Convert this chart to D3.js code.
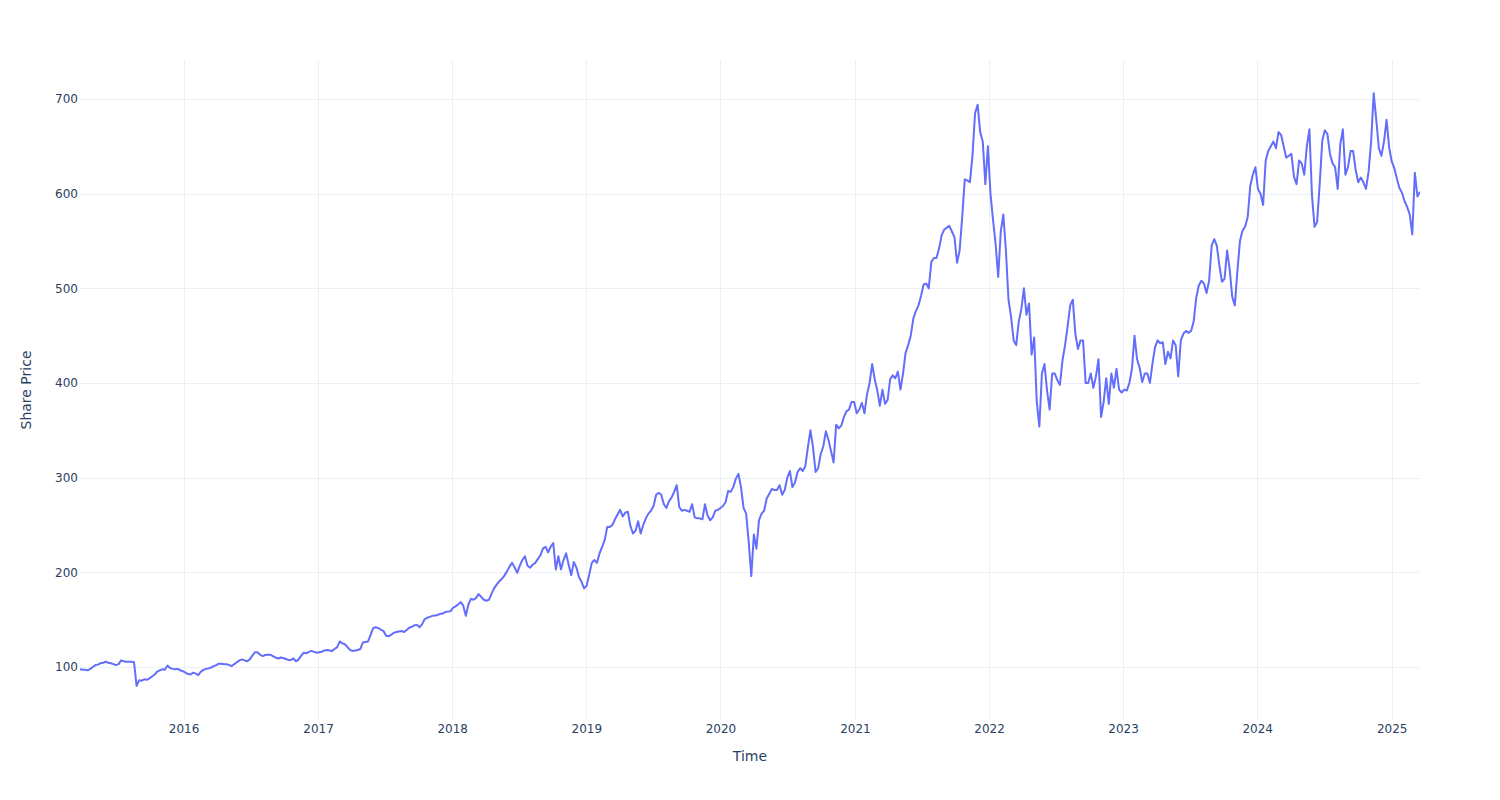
<!DOCTYPE html>
<html><head><meta charset="utf-8">
<script src="https://cdn.jsdelivr.net/npm/d3@7"></script>
<style>
body{margin:0;background:#fff}
text{font-family:"DejaVu Sans",Verdana,sans-serif}
</style>
</head><body>
<svg id="chart" width="1500" height="800"></svg>
<script>
// ---- data (weekly closes) ----
const startDate = "2015-03-25";
const stepDays = 7;
const prices = [
97.5,97,97,96.5,98,100,102,102.5,104,104.5,105.5,104.5,104,103,102,103,107,106,105.5,105.5,
105.5,105,80,86,85.5,87,86.5,88,90,92,95,96.5,97.5,97,101.5,99,98,97.5,98,96.5,
95.5,94,92.5,92,94,93,91.5,95,97,98,98.5,99.5,101,102,103.5,103.5,103,103,102,101,
103,105,107,108,107,106,108,112,115.5,115.5,113,111.5,112.7,113,113,111.5,110,109,110,109.5,
108.5,107.5,107.5,109,106,108,112,115,114.5,116,117,116,115,115.5,116,117.5,118,117.5,117,119,
121,127,125,124,121,118,117,117.5,118,119,126,126.5,127,134,141,142,141,139.5,138,133,
132.5,134,136,137,137.5,138,137,139,141.5,142.5,144,144.5,142,145,150.5,152,153,154,154.5,155,
156,156.5,158,158.5,158.8,162.5,164,166,168.5,165,154,166,172,171,173,177,174,171,170,171,
177.5,183,187,190.5,193,196.5,201,206,210,205,199.5,207,213,217,207,205,208,210,214,218,
225,227,221,227,231,203,217,203,213,220,208,197,211,205,195,190,183,186,198,210,
213,210,220,227,234,248,248,250,256,261,266,259,263,264,249,241,244,254,241,250,
257,262,265,270,282,284,282,272,268,275,279,285,292,269,265,266,265,264,272,258,
257,257,256,272,260,255,258,265,266,268,270,274,286,285,290,299,304,290,268,262,
232,196,240,225,255,262,265,278,283,288,287,287,292,282,287,300,307,290,295,306,
310,307,312,332,350,332,306,310,325,333,349,340,328,316,356,352,355,364,370,372,
380,380,368,372,379,368,388,400,420,404,392,376,393,378,382,404,408,405,412,393,
410,432,440,450,468,476,482,492,504,505,500,528,532,532,542,556,562,564,566,560,
554,527,540,575,615,614,612,640,685,694,665,655,610,650,600,572,547,512,560,578,
540,488,470,445,440,465,478,500,472,484,430,448,380,354,410,420,392,372,410,410,
403,398,424,440,460,482,488,452,436,445,445,400,400,410,395,407,425,364,380,405,
378,410,395,415,393,390,393,392,400,415,450,425,416,401,410,410,400,421,438,445,
442,443,420,433,426,445,440,407,445,452,455,453,455,465,490,503,508,505,495,508,
545,552,545,524,507,510,540,520,491,482,518,550,561,565,575,608,620,628,605,600,
588,635,645,650,655,648,665,662,650,638,640,642,618,610,635,632,620,650,668,598,
565,570,610,656,667,663,642,632,628,605,652,668,620,628,645,645,625,612,617,612,
605,623,655,706,678,648,640,655,678,649,634,627,616,606,601,592,586,578,557,622,
597,602
];
const yTickValues = [100,200,300,400,500,600,700];
const xTickYears = [2016,2017,2018,2019,2020,2021,2022,2023,2024,2025];
const yDomain = [44, 741.2];
const xTitle = "Time";
const yTitle = "Share Price";

// ---- layout ----
const W = 1500, H = 800;
const margin = {l:80, r:80, t:60, b:80};
const fontColor = "#2a3f5f", gridColor = "#EBF0F8", lineColor = "#636efa";
const fontFamily = '"DejaVu Sans",Verdana,sans-serif';

const t0 = d3.utcParse("%Y-%m-%d")(startDate);
const data = prices.map((v,i)=>({date:d3.utcDay.offset(t0, i*stepDays), value:v}));

const svg = d3.select("#chart");
svg.append("rect").attr("width",W).attr("height",H).attr("fill","#fff");

const x = d3.scaleUtc().domain(d3.extent(data,d=>d.date)).range([margin.l, W-margin.r]);
const y = d3.scaleLinear().domain(yDomain).range([H-margin.b, margin.t]);

const xTicks = xTickYears.map(yr=>new Date(Date.UTC(yr,0,1)));

// grid
const grid = svg.append("g").attr("shape-rendering","crispEdges");
grid.selectAll("line.v").data(xTicks).join("line")
  .attr("x1",d=>Math.round(x(d))).attr("x2",d=>Math.round(x(d)))
  .attr("y1",margin.t).attr("y2",H-margin.b)
  .attr("stroke",gridColor).attr("stroke-width",1);
grid.selectAll("line.h").data(yTickValues).join("line")
  .attr("x1",margin.l).attr("x2",W-margin.r)
  .attr("y1",d=>Math.round(y(d))).attr("y2",d=>Math.round(y(d)))
  .attr("stroke",gridColor).attr("stroke-width",1);

// axes
const xAxis = svg.append("g").attr("transform",`translate(0,${H-margin.b})`)
  .call(d3.axisBottom(x).tickValues(xTicks).tickSize(0).tickPadding(4).tickFormat(d3.utcFormat("%Y")));
const yAxis = svg.append("g").attr("transform",`translate(${margin.l},0)`)
  .call(d3.axisLeft(y).tickValues(yTickValues).tickSize(0).tickPadding(2).tickFormat(d3.format("d")));
[xAxis,yAxis].forEach(a=>{
  a.select(".domain").remove();
  a.selectAll("text").attr("fill",fontColor).style("font-size","12px")
    .style("font-family",fontFamily);
});

// clip
svg.append("clipPath").attr("id","clip").append("rect")
  .attr("x",margin.l).attr("y",margin.t).attr("width",W-margin.l-margin.r).attr("height",H-margin.t-margin.b);

// line
const line = d3.line().x(d=>x(d.date)).y(d=>y(d.value));
svg.append("path").datum(data).attr("clip-path","url(#clip)")
  .attr("d",line).attr("fill","none").attr("stroke",lineColor)
  .attr("stroke-width",2).attr("stroke-linejoin","round");

// titles
svg.append("text").attr("x",(margin.l+W-margin.r)/2).attr("y",761)
  .attr("text-anchor","middle").attr("fill",fontColor).style("font-size","14px")
  .style("font-family",fontFamily).text(xTitle);
svg.append("text").attr("transform",`translate(31,${(margin.t+H-margin.b)/2}) rotate(-90)`)
  .attr("text-anchor","middle").attr("fill",fontColor).style("font-size","14px")
  .style("font-family",fontFamily).text(yTitle);
</script>
</body></html>
